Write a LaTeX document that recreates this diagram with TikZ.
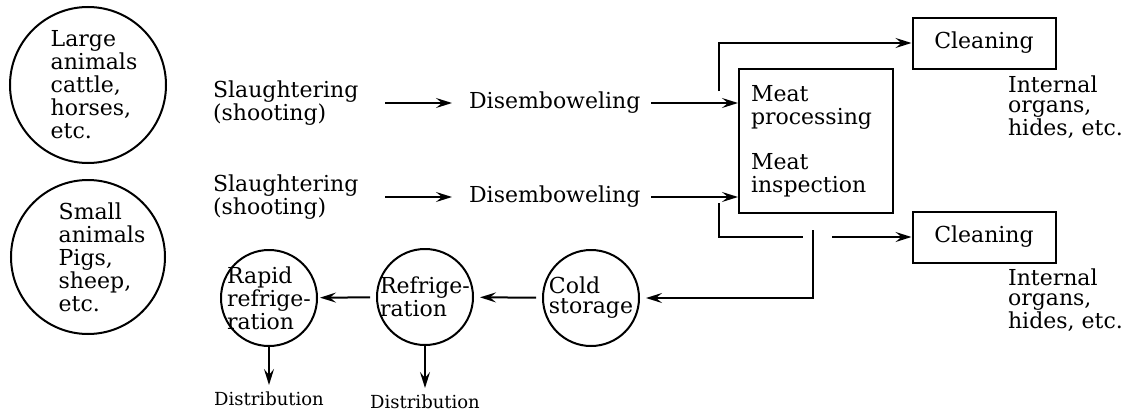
\documentclass[tikz,border=0pt]{standalone}
\usepackage{fontspec}
\setmainfont{DejaVu Serif}
\usetikzlibrary{positioning,arrows.meta}

\tikzset{
  animal/.style={circle, draw, line width=1pt, minimum size=#1, inner sep=0pt},
  stage/.style={circle, draw, line width=1pt, minimum size=48pt, inner sep=0pt},
  box/.style={draw, line width=1pt},
  txt/.style={align=left, font=\fontsize{11}{10}\selectfont},
  loose/.style={align=left, font=\fontsize{11}{11.5}\selectfont},
  small/.style={font=\fontsize{9}{10}\selectfont},
  wire/.style={line width=1pt},
  flow/.style={-{Stealth[length=8pt,width=5pt,inset=3pt]}, line width=1pt},
}

\begin{document}
\begin{tikzpicture}[x=0.5pt, y=-0.5pt]
	\useasboundingbox (0,0) rectangle (1130,412);
	
	% animals
	\node[animal=78pt, label={[loose, xshift=3pt]center:Large\\animals\\cattle,\\horses,\\etc.}] (large) at (88,85) {};
	\node[animal=77pt, label={[loose, xshift=7pt]center:Small\\animals\\Pigs,\\sheep,\\etc.}] (small) at (88,257) {};
	
	% two lines of work
	\node[txt, anchor=west] (slA) at (206,103) {Slaughtering\\(shooting)};
	\node[txt, anchor=west] (disA) at (462,103) {Disemboweling};
	\node[txt, anchor=west] (slB) at (206,197) {Slaughtering\\(shooting)};
	\node[txt, anchor=west] (disB) at (462,197) {Disemboweling};
	
	\node[box, loose, minimum width=77pt, minimum height=72pt, text width=65pt, inner sep=0pt] (meat) at (816,141) {Meat\\processing\\[11pt]Meat\\inspection};
	
	\node[box, txt, minimum width=71.5pt, minimum height=25.5pt] (clA) at (984,43) {Cleaning};
	\node[box, txt, minimum width=71.5pt, minimum height=25.5pt] (clB) at (984,237) {Cleaning};
	\node[txt, anchor=west] (orgA) at (1001,107) {Internal\\organs,\\hides, etc.};
	\node[txt, anchor=west] (orgB) at (1001,300) {Internal\\organs,\\hides, etc.};
	
	% cooling
	\node[stage, label={[txt]center:Rapid\\refrige-\\ration}] (rapid) at (269,298) {};
	\node[stage, label={[txt]center:Refrige-\\ration}] (refr) at (425,297) {};
	\node[stage, label={[txt]center:Cold\\storage}] (cold) at (591,298) {};
	\node[small, below=19pt of rapid] (distA) {Distribution};
	\node[small, below=21pt of refr] (distB) {Distribution};
	
	\coordinate (forkA) at (719,91);
	\coordinate (forkB) at (719,203);
	\coordinate (hopL) at (803,240);
	\coordinate (hopR) at (832,240);
	\coordinate (drop) at (813,230);
	
	\draw[flow, shorten <=10pt, shorten >=5pt] (slA) -- (disA);
	\draw[flow, shorten <=10pt, shorten >=5pt] (slB) -- (disB);
	\draw[flow, shorten <=2pt] (disA) -- (disA -| meat.west);
	\draw[flow, shorten <=2pt] (disB) -- (disB -| meat.west);
	
	\draw[flow] (forkA) |- (clA.west);
	\draw[wire] (forkB) |- (hopL |- clB.west);
	\draw[flow] (hopR |- clB.west) -- (clB.west);
	\draw[flow, shorten >=3pt] (drop) |- (cold.east);
	
	\draw[flow, shorten <=3pt, shorten >=3pt] (cold) -- (refr);
	\draw[flow, shorten <=3pt, shorten >=1pt] (refr) -- (rapid);
	\draw[flow] (rapid) -- (distA);
	\draw[flow] (refr) -- (distB);
\end{tikzpicture}
\end{document}
